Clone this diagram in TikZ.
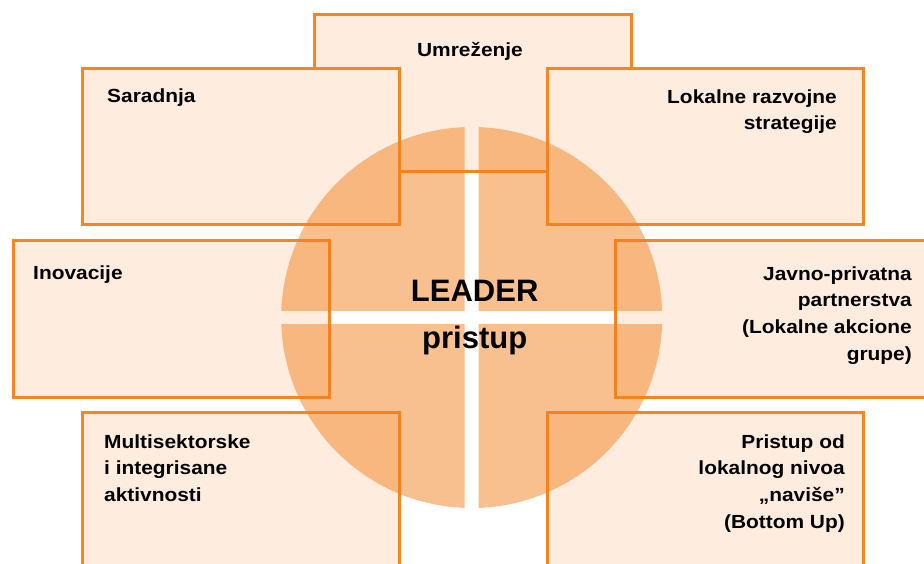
\documentclass[tikz,border=0pt]{standalone}
\usepackage{fontspec}
\setmainfont{Liberation Sans}
\newfontfamily\panelfont[FakeStretch=1.1]{Liberation Sans}
\definecolor{lineorange}{HTML}{F6861F}
\definecolor{panelfill}{HTML}{FEEDDF}
\definecolor{discorange}{HTML}{F4821F}
\begin{document}
\begin{tikzpicture}[x=1pt,y=-1pt,
  panel/.style={rectangle, draw=lineorange, line width=2.6pt, fill=panelfill,
    inner sep=0pt, anchor=north west},
  lbl/.style={inner sep=0pt, text=black,
    font=\panelfont\bfseries\fontsize{19}{26.6}\selectfont},
  title/.style={inner sep=0pt, anchor=base, text=black,
    font=\bfseries\fontsize{31}{36}\selectfont},
]
\path[use as bounding box] (0,0) rectangle (924,563);
\clip (0,0) rectangle (924,563);

% the seven theme panels
\node[panel, minimum width=317pt, minimum height=157pt] (net)    at (313,13)  {};
\node[panel, minimum width=317pt, minimum height=156pt] (coop)   at (81,67)   {};
\node[panel, minimum width=316pt, minimum height=156pt] (strat)  at (546,67)  {};
\node[panel, minimum width=316pt, minimum height=157pt] (innov)  at (12,239)  {};
\node[panel, minimum width=330pt, minimum height=157pt] (ppp)    at (614,239) {};
\node[panel, minimum width=317pt, minimum height=175pt] (multi)  at (81,411)  {};
\node[panel, minimum width=316pt, minimum height=175pt] (bottom) at (546,411) {};

% translucent disc split into four quarters by a cross-shaped gap
\coordinate (centre) at (471.7,317.5);
\foreach \sx/\sy in {1/1,1/-1,-1/1,-1/-1}{
  \begin{scope}
    \clip (\sx*7+471.7, \sy*7+317.5) rectangle (\sx*300+471.7, \sy*300+317.5);
    \fill[discorange, opacity=.5] (centre) circle[radius=190.5];
  \end{scope}
}

% panel labels
\node[lbl, anchor=north] (netT) at (470,41) {\rule{0pt}{15pt}Umreženje};
\node[lbl, anchor=north west] (coopT) at (107,87) {\rule{0pt}{15pt}Saradnja};
\node[lbl, anchor=north east, align=right] (stratT) at (837,88)
  {\rule{0pt}{15pt}Lokalne razvojne\\strategije};
\node[lbl, anchor=north west] (innovT) at (33,264) {\rule{0pt}{15pt}Inovacije};
\node[lbl, anchor=north east, align=right] (pppT) at (912,265)
  {\rule{0pt}{15pt}Javno-privatna\\partnerstva\\(Lokalne akcione\\grupe)};
\node[lbl, anchor=north west, align=left] (multiT) at (104,433)
  {\rule{0pt}{15pt}Multisektorske\\i integrisane\\aktivnosti};
\node[lbl, anchor=north east, align=right] (bottomT) at (845,433)
  {\rule{0pt}{15pt}Pristup od\\lokalnog nivoa\\„naviše”\\(Bottom Up)};

% central title
\node[title] (lead) at (474.7,301.7) {LEADER};
\node[title] (appr) at (474.7,348.3) {pristup};
\end{tikzpicture}
\end{document}
